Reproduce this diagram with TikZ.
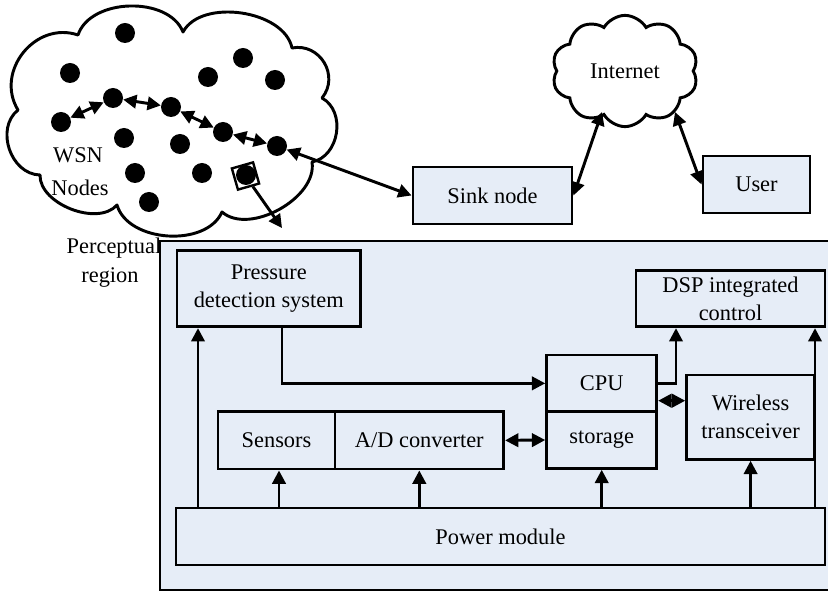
\documentclass[tikz,border=0pt]{standalone}
\usepackage{fontspec}
\setmainfont{Liberation Serif}
\usetikzlibrary{arrows.meta,shapes.symbols}
\definecolor{boxfill}{RGB}{230,237,247}
\def\u{0.75pt}
\begin{document}
\begin{tikzpicture}[x=0.75pt,y=-0.75pt,
  every node/.style={font=\fontsize{16.8}{21}\selectfont},
  line/.style={line width=2.2pt},
  tipA/.tip={Triangle[length=10pt,width=10pt]},
  arr/.style={line width=2.2pt,-tipA},
  darr/.style={line width=2.2pt,tipA-tipA},
  box/.style={draw,line width=2.2pt,fill=boxfill,inner sep=0pt,align=center},
  dot/.style={circle,fill=black,minimum size=20*\u,inner sep=0pt},
  cloudy/.style={cloud,draw,line width=2.2pt,fill=white,inner sep=0pt},
  lobe/.style={bend left=70,looseness=#1},
  lobe/.default=1,
  lbl/.style={anchor=base,inner sep=0pt}]
\useasboundingbox (0,0) rectangle (828,591);

% labels of the sensing region (partly hidden by the node frame)
\node[lbl] (perc) at (114,254) {Perceptual};
\node[lbl] (reg) at (110,283) {region};

% sensor node frame, open on the right
\fill[boxfill] (160,241) rectangle (840,590);
\draw[line] (840,241) -- (160,241) -- (160,590) -- (840,590);

% perceptual region cloud, one lobe between each pair of joints
\coordinate (j1) at (18,110);
\coordinate (j2) at (78,35);
\coordinate (j3) at (183,32);
\coordinate (j4) at (292,48);
\coordinate (j5) at (322,98);
\coordinate (j6) at (312,162);
\coordinate (j7) at (222,212);
\coordinate (j8) at (117,205);
\coordinate (j9) at (40,175);
\draw[line,line join=round,fill=white]
  (j1) to[lobe=1.2] (j2) to[lobe=0.95] (j3) to[lobe=0.9] (j4)
  to[lobe=1.25] (j5) to[lobe=1.1] (j6) to[lobe=0.9] (j7)
  to[lobe=0.95] (j8) to[lobe=0.9] (j9) to[lobe=1.1] (j1) -- cycle;
\node[lbl] (wsnA) at (78,163) {WSN};
\node[lbl] (wsnB) at (80,196) {Nodes};

\node[dot] (d1) at (125,33) {};
\node[dot] (d2) at (70,73) {};
\node[dot] (d3) at (208,77) {};
\node[dot] (d4) at (243,58) {};
\node[dot] (d5) at (275,80) {};
\node[dot] (d6) at (113,98) {};
\node[dot] (d7) at (61,122) {};
\node[dot] (d8) at (171,107) {};
\node[dot] (d9) at (223,132) {};
\node[dot] (d10) at (277,146) {};
\node[dot] (d11) at (124,138) {};
\node[dot] (d12) at (180,144) {};
\node[dot] (d13) at (135,173) {};
\node[dot] (d14) at (202,173) {};
\node[dot] (d15) at (149,202) {};
\node[dot] (d16) at (246,175) {};
\node[draw,line width=1.8pt,rotate=16,minimum size=22*\u,inner sep=0pt] (sq) at (245.5,176) {};
\coordinate (tip) at (282,228);

\draw[darr] (d7) -- (d6);
\draw[darr] (d6) -- (d8);
\draw[darr] (d8) -- (d9);
\draw[darr] (d9) -- (d10);
\draw[arr] (sq) -- (tip);

% network side
\node[cloudy,cloud puffs=10,cloud puff arc=120,minimum width=146*\u,minimum height=98*\u] (inet) at (625,71) {Internet};
\node[box,minimum width=159*\u,minimum height=57*\u] (sink) at (492.5,195.5) {Sink node};
\node[box,minimum width=107*\u,minimum height=57*\u] (user) at (756.5,184.5) {User};
\coordinate (inL) at (602,112);
\coordinate (inR) at (675,112);

\draw[darr] (d10) -- (sink.west);
\draw[darr] (sink.east) -- (inL);
\draw[darr] (user.west) -- (inR);

% blocks of the sensor node
\node[box,minimum width=183.5*\u,minimum height=76*\u] (pds) at (268.75,288.7) {Pressure\\detection system};
\node[box,minimum width=189*\u,minimum height=56*\u] (dsp) at (730.5,298.7) {DSP integrated\\control};
\node[box,minimum width=110*\u,minimum height=56.7*\u] (cpu) at (601.7,383.35) {CPU};
\node[box,minimum width=110*\u,minimum height=56.6*\u] (sto) at (601.7,440) {storage};
\node[box,minimum width=127.8*\u,minimum height=84.3*\u] (wl) at (750.6,417.15) {Wireless\\transceiver};
\node[box,minimum width=117*\u,minimum height=57.3*\u] (sen) at (276.5,440.35) {Sensors};
\node[box,minimum width=168.6*\u,minimum height=57.3*\u] (ad) at (419.3,440.35) {A/D converter};
\node[box,minimum width=649*\u,minimum height=57*\u] (pm) at (500.5,536.5) {Power module};

% signal paths
\draw[arr] (pds.south -| 282,0) |- (cpu.west);
\draw[arr] (cpu.east) -| (dsp.south -| 676,0);
\draw[darr] (cpu.east |- 0,400.7) -- (wl.west |- 0,400.7);
\draw[darr] (ad.east) -- (sto.west);

% power supply paths
\draw[arr] (pm.north -| 198,0) -- (pds.south -| 198,0);
\draw[arr] (pm.north -| 279,0) -- (sen.south -| 279,0);
\draw[arr] (pm.north -| ad.south) -- (ad.south);
\draw[arr] (pm.north -| sto.south) -- (sto.south);
\draw[arr] (pm.north -| wl.south) -- (wl.south);
\draw[arr] (pm.north -| 815,0) -- (dsp.south -| 815,0);
\end{tikzpicture}
\end{document}
